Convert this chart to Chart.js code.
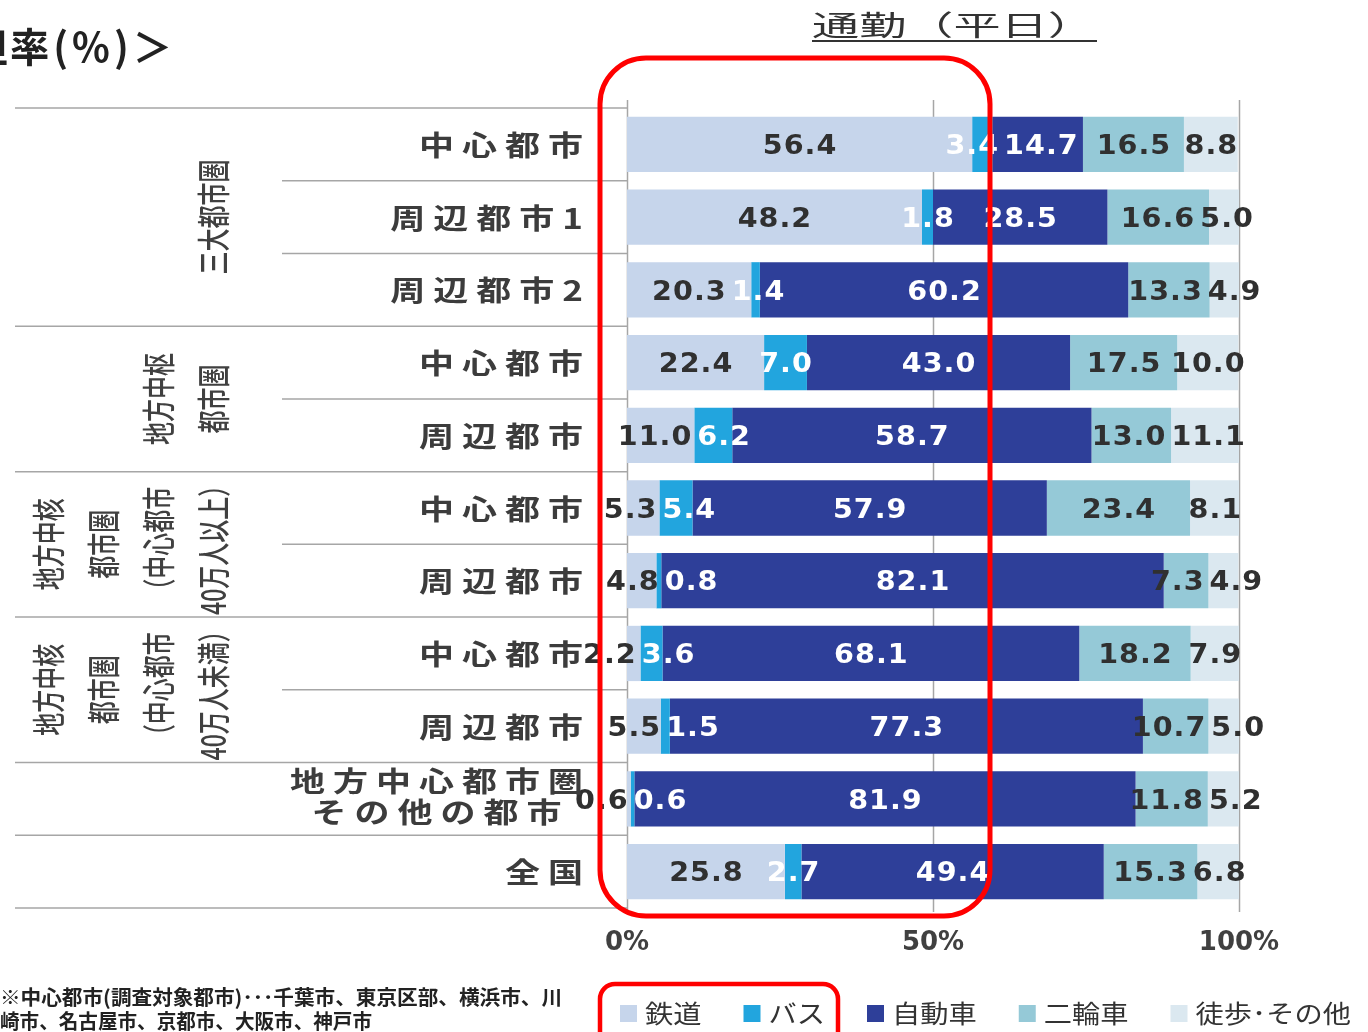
<!DOCTYPE html>
<html lang="ja">
  <head>
    <meta charset="UTF-8" />
    <title>通勤（平日）代表交通手段分担率</title>
    <style>
      body {
        margin: 0;
        background: white;
      }
      #wrap {
        width: 1368px;
        height: 1032px;
      }
    </style>
  </head>
  <body>
    <div id="wrap">
      <canvas id="modeChart" width="1368" height="1032"></canvas>
    </div>

    <script src="https://cdn.jsdelivr.net/npm/chart.js"></script>
    <script>
      // 行ラベル（2行のものは配列で）
      const categories = [
        ["中心都市"],
        ["周辺都市1"],
        ["周辺都市2"],
        ["中心都市"],
        ["周辺都市"],
        ["中心都市"],
        ["周辺都市"],
        ["中心都市"],
        ["周辺都市"],
        ["地方中心都市圏", "その他の都市"],
        ["全国"],
      ];

      // 都市圏グループ（縦書きラベル）と対象行
      const groupNames = [
        ["三大都市圏"],
        ["地方中枢", "都市圏"],
        ["地方中核", "都市圏", "（中心都市", "40万人以上）"],
        ["地方中核", "都市圏", "（中心都市", "40万人未満）"],
      ];
      const groupRows = [
        [0, 2],
        [3, 4],
        [5, 6],
        [7, 8],
      ];

      const seriesNames = ["鉄道", "バス", "自動車", "二輪車", "徒歩･その他"];

      // 分担率（%）
      const rail = [56.4, 48.2, 20.3, 22.4, 11.0, 5.3, 4.8, 2.2, 5.5, 0.6, 25.8];
      const bus = [3.4, 1.8, 1.4, 7.0, 6.2, 5.4, 0.8, 3.6, 1.5, 0.6, 2.7];
      const car = [14.7, 28.5, 60.2, 43.0, 58.7, 57.9, 82.1, 68.1, 77.3, 81.9, 49.4];
      const bike = [16.5, 16.6, 13.3, 17.5, 13.0, 23.4, 7.3, 18.2, 10.7, 11.8, 15.3];
      const walk = [8.8, 5.0, 4.9, 10.0, 11.1, 8.1, 4.9, 7.9, 5.0, 5.2, 6.8];

      const xTicks = [0, 50, 100];

      const footnote = [
        "※中心都市(調査対象都市)･･･千葉市、東京区部、横浜市、川",
        "崎市、名古屋市、京都市、大阪市、神戸市",
      ];

      const JP = '"Noto Sans CJK JP", "Noto Sans", sans-serif';
      const valueFont = { font: 'bold 26px "DejaVu Sans"', sx: 1.1, sp: 1 };

      function textWidth(ctx, str, o) {
        const chars = Array.from(str);
        ctx.save();
        ctx.font = o.font;
        const natural = chars.reduce((a, c) => a + ctx.measureText(c).width, 0);
        ctx.restore();
        return natural * (o.sx || 1) + (o.sp || 0) * (chars.length - 1);
      }

      // 文字を1字ずつ描く（横伸ばし・字間つき）
      function drawText(ctx, str, x, y, o) {
        const chars = Array.from(str);
        const sp = o.sp || 0;
        ctx.save();
        ctx.translate(x, y);
        ctx.scale(o.outer || 1, 1);
        ctx.rotate(o.rot || 0);
        ctx.font = o.font;
        ctx.fillStyle = o.color || "#333";
        ctx.textBaseline = "middle";
        ctx.textAlign = "left";
        const raw = chars.map((c) => ctx.measureText(c).width);
        const natural = raw.reduce((a, b) => a + b, 0);
        let sx = o.sx || 1;
        if (o.width) sx = (o.width - sp * (chars.length - 1)) / natural;
        const total = natural * sx + sp * (chars.length - 1);
        let cx = 0;
        if (o.align === "right") cx = -total;
        else if (o.align === "center") cx = -total / 2;
        chars.forEach((c, i) => {
          ctx.save();
          ctx.translate(cx, 0);
          ctx.scale(sx, 1);
          ctx.fillText(c, 0, 0);
          ctx.restore();
          cx += raw[i] * sx + sp;
        });
        ctx.restore();
        return total;
      }

      function groupOf(row) {
        return groupRows.findIndex((g) => row >= g[0] && row <= g[1]);
      }

      const decoPlugin = {
        id: "deco",
        beforeDatasetsDraw(chart) {
          const ctx = chart.ctx;
          const xs = chart.scales.x;
          const area = chart.chartArea;
          ctx.save();
          ctx.strokeStyle = "#a6a6a6";
          ctx.lineWidth = 1.5;
          xTicks.forEach((v) => {
            const px = Math.round(xs.getPixelForValue(v)) + 0.5;
            ctx.beginPath();
            ctx.moveTo(px, area.top - 8);
            ctx.lineTo(px, area.bottom + 4);
            ctx.stroke();
          });
          ctx.restore();
        },
        afterDatasetsDraw(chart) {
          const ctx = chart.ctx;
          const sets = chart.data.datasets;
          // 行ごとにラベルを並べ、重なりを左右に押し広げる
          for (let i = 0; i < categories.length; i++) {
            const labels = sets.map((ds, di) => {
              const bar = chart.getDatasetMeta(di).data[i];
              const c = bar.getCenterPoint();
              const txt = ds.data[i].toFixed(1);
              return {
                txt,
                x: c.x,
                y: c.y,
                w: textWidth(ctx, txt, valueFont),
                seg: Math.abs(bar.x - bar.base),
                color: ds.textColor,
              };
            });
            for (let it = 0; it < 20; it++) {
              for (let j = 0; j < labels.length - 1; j++) {
                const a = labels[j];
                const b = labels[j + 1];
                const ov = a.x + a.w / 2 + 6 - (b.x - b.w / 2);
                if (ov > 0) {
                  const wa = 1 / (a.seg + 5);
                  const wb = 1 / (b.seg + 5);
                  a.x -= (ov * wa) / (wa + wb);
                  b.x += (ov * wb) / (wa + wb);
                }
              }
            }
            labels.forEach((l) => {
              drawText(ctx, l.txt, l.x, l.y + 3, Object.assign({ color: l.color, align: "center" }, valueFont));
            });
          }
        },
        afterDraw(chart) {
          const ctx = chart.ctx;
          const ys = chart.scales.y;
          const area = chart.chartArea;
          const n = categories.length;
          const band = (ys.getPixelForValue(n - 1) - ys.getPixelForValue(0)) / (n - 1);
          const axisX = area.left;

          // 区切り線
          ctx.save();
          ctx.strokeStyle = "#a6a6a6";
          ctx.lineWidth = 1.5;
          const hline = (y, x0) => {
            ctx.beginPath();
            ctx.moveTo(x0, y);
            ctx.lineTo(axisX, y);
            ctx.stroke();
          };
          hline(area.top, 15);
          hline(area.bottom, 15);
          for (let i = 0; i < n - 1; i++) {
            const y = ys.getPixelForValue(i) + band / 2;
            const g = groupOf(i);
            const same = g >= 0 && g === groupOf(i + 1);
            hline(y, same ? 282 : 15);
          }
          ctx.restore();

          // 行ラベル
          categories.forEach((lines, i) => {
            const yc = ys.getPixelForValue(i) + 1;
            const opt = { font: "bold 28px " + JP, color: "#3c3c3c", sx: 1.25, sp: 8 };
            if (lines.length === 1) {
              drawText(ctx, lines[0], 583, yc, Object.assign({ align: "right" }, opt));
            } else {
              const maxW = Math.max(...lines.map((l) => textWidth(ctx, l, opt)));
              const mid = 583 - maxW / 2;
              lines.forEach((l, k) => {
                drawText(ctx, l, mid, yc - 3 + (k - (lines.length - 1) / 2) * 31, Object.assign({ align: "center" }, opt));
              });
            }
          });

          // 縦書きの都市圏ラベル
          groupNames.forEach((lines, g) => {
            const [a, b] = groupRows[g];
            const yc = (ys.getPixelForValue(a) + ys.getPixelForValue(b)) / 2;
            lines.forEach((l, k) => {
              const xc = 213 - (lines.length - 1 - k) * 55;
              drawText(ctx, l, xc, yc, {
                font: "500 23px " + JP,
                color: "#404040",
                outer: 1.45,
                rot: -Math.PI / 2,
                align: "center",
              });
            });
          });

          // 見出し
          drawText(ctx, "通勤（平日）", 812, 25, { font: "28px " + JP, color: "#333", width: 283 });
          ctx.save();
          ctx.strokeStyle = "#333";
          ctx.lineWidth = 2;
          ctx.beginPath();
          ctx.moveTo(812, 41);
          ctx.lineTo(1097, 41);
          ctx.stroke();
          ctx.restore();

          drawText(ctx, "担", 8, 47, { font: "bold 40px " + JP, color: "#222", align: "right" });
          drawText(ctx, "率(%)＞", 10, 47, { font: "bold 40px " + JP, color: "#222", width: 162, sp: 4 });

          // 注記
          drawText(ctx, footnote[0], 0, 997, { font: "bold 20px " + JP, color: "#222", width: 562 });
          drawText(ctx, footnote[1], 0, 1021, { font: "bold 20px " + JP, color: "#222", width: 372 });

          // 凡例
          let lx = 620;
          chart.data.datasets.forEach((ds) => {
            ctx.fillStyle = ds.backgroundColor;
            ctx.fillRect(lx, 1005, 17, 17);
            const w = drawText(ctx, ds.label, lx + 25, 1013, {
              font: "25px " + JP,
              color: "#333",
              sx: 1.13,
            });
            lx += 25 + w + 42;
          });

          // 赤枠
          ctx.save();
          ctx.strokeStyle = "#ff0000";
          ctx.lineWidth = 5;
          ctx.beginPath();
          ctx.roundRect(600, 58, 390, 858, 46);
          ctx.stroke();
          ctx.lineWidth = 4.5;
          ctx.beginPath();
          ctx.roundRect(600, 984, 238, 80, 15);
          ctx.stroke();
          ctx.restore();
        },
      };

      const seriesData = [rail, bus, car, bike, walk];
      const seriesColors = ["#c6d5eb", "#22a5de", "#2e3f99", "#95c9d7", "#dbe8f0"];
      const seriesText = ["#303030", "#ffffff", "#ffffff", "#303030", "#303030"];

      new Chart(document.getElementById("modeChart").getContext("2d"), {
        type: "bar",
        data: {
          labels: categories.map((c) => c.join("")),
          datasets: seriesNames.map((name, i) => ({
            label: name,
            data: seriesData[i],
            backgroundColor: seriesColors[i],
            textColor: seriesText[i],
            borderWidth: 0,
            barPercentage: 0.76,
            categoryPercentage: 1,
          })),
        },
        options: {
          indexAxis: "y",
          responsive: false,
          animation: false,
          layout: { padding: { left: 627, right: 129, top: 108, bottom: 0 } },
          plugins: {
            legend: { display: false },
            tooltip: { enabled: false },
          },
          scales: {
            x: {
              stacked: true,
              min: 0,
              max: 100,
              grid: { display: false, drawTicks: false },
              border: { display: false },
              afterBuildTicks: (scale) => {
                scale.ticks = xTicks.map((v) => ({ value: v }));
              },
              afterFit: (scale) => {
                scale.height = 124;
              },
              ticks: {
                padding: 20,
                maxRotation: 0,
                color: "#404040",
                font: { family: "DejaVu Sans", size: 26, weight: "bold" },
                callback: (v) => v + "%",
              },
            },
            y: {
              stacked: true,
              display: false,
            },
          },
        },
        plugins: [decoPlugin],
      });
    </script>
  </body>
</html>
